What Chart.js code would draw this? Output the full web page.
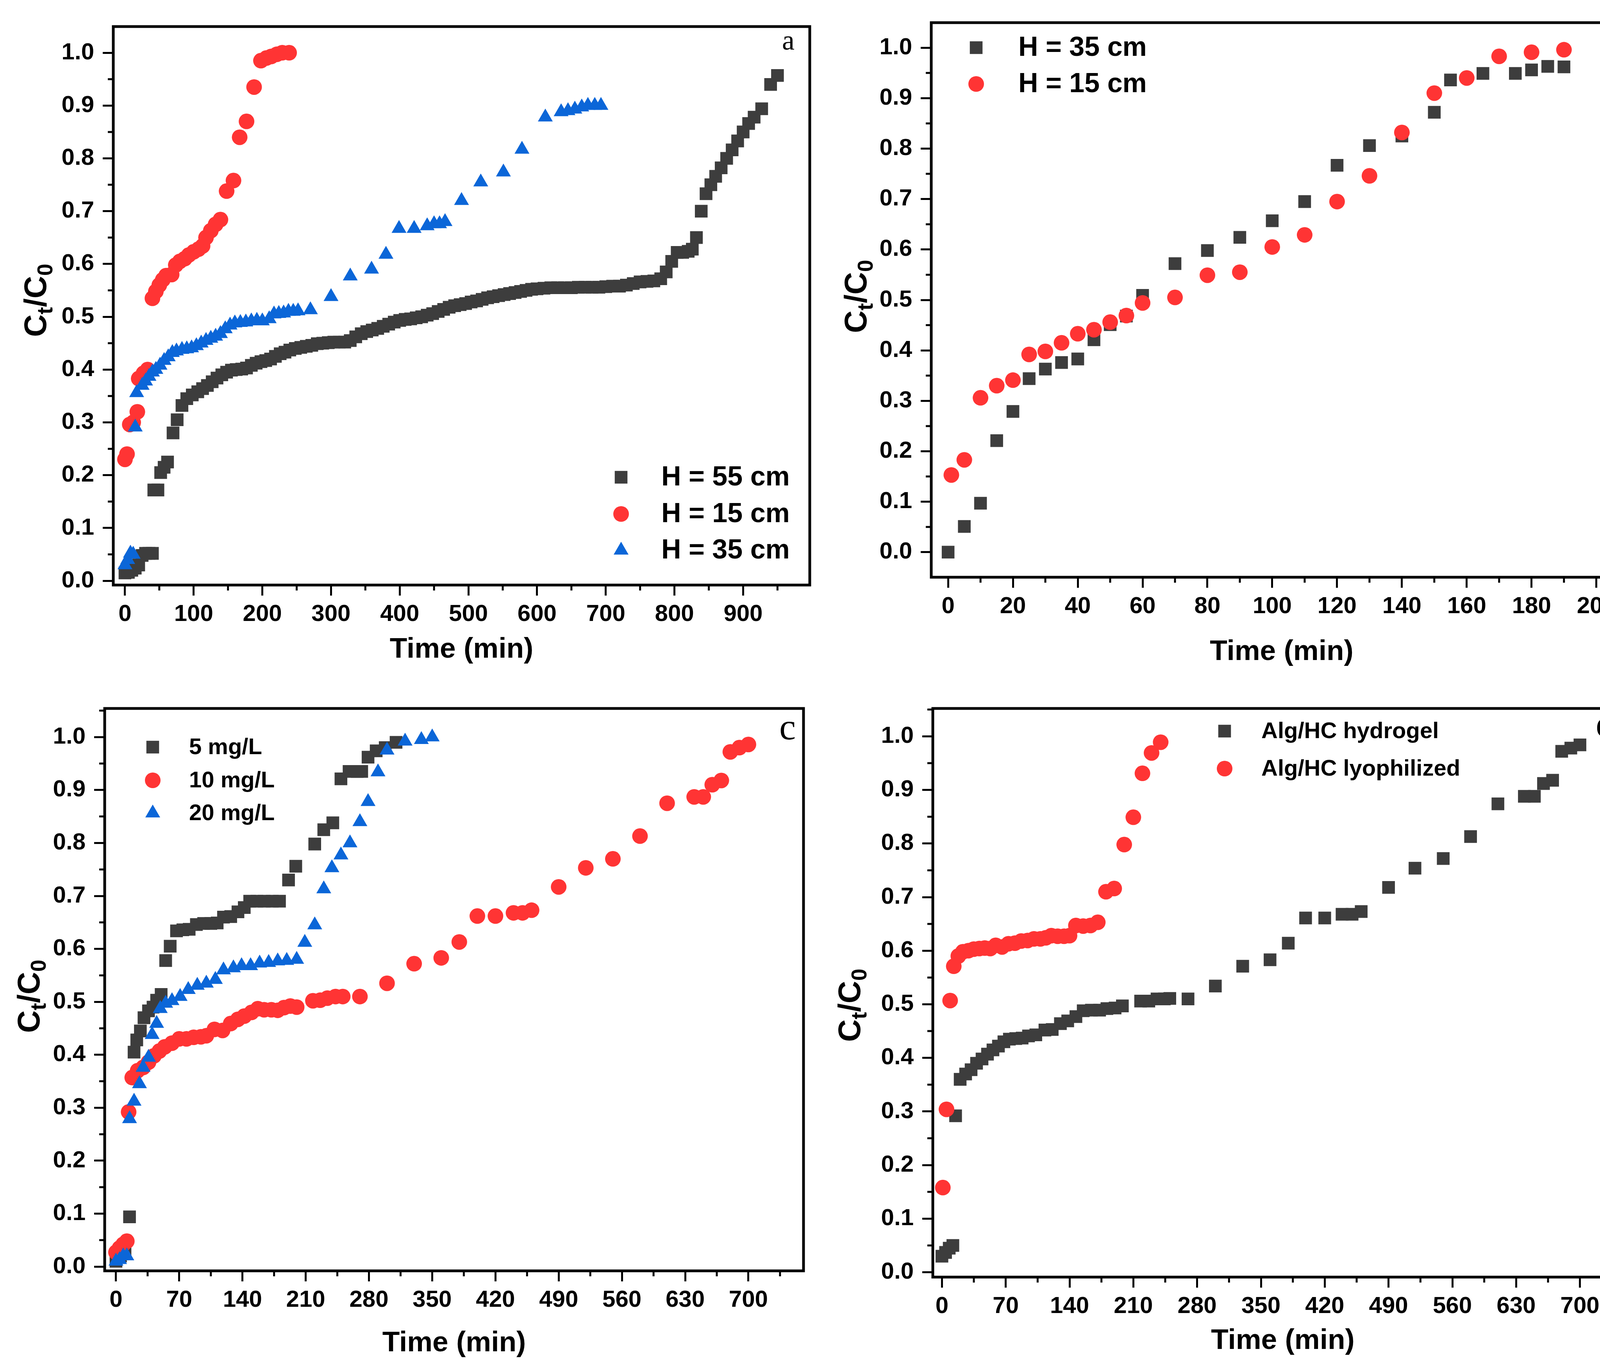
<!DOCTYPE html>
<html>
<head>
<meta charset="utf-8">
<script src="https://cdn.jsdelivr.net/npm/chart.js@4.4.1/dist/chart.umd.min.js"></script>
<style>
html, body { margin: 0; padding: 0; background: #fff; }
body { width: 4229px; height: 3513px; position: relative; overflow: hidden; }
.panel { position: absolute; }
</style>
</head>
<body>
<div class="panel" style="left:0;top:0;width:2115px;height:1756px"><canvas id="ca"></canvas></div>
<div class="panel" style="left:2115px;top:0;width:2114px;height:1756px"><canvas id="cb"></canvas></div>
<div class="panel" style="left:0;top:1756px;width:2115px;height:1757px"><canvas id="cc"></canvas></div>
<div class="panel" style="left:2115px;top:1756px;width:2114px;height:1757px"><canvas id="cd"></canvas></div>
<script>
// --- tick labels ---
const yTicks = [0, 0.1, 0.2, 0.3, 0.4, 0.5, 0.6, 0.7, 0.8, 0.9, 1.0];
const xTicksA = [0, 100, 200, 300, 400, 500, 600, 700, 800, 900];
const xTicksB = [0, 20, 40, 60, 80, 100, 120, 140, 160, 180, 200];
const xTicksCD = [0, 70, 140, 210, 280, 350, 420, 490, 560, 630, 700];

// --- panel a : bed height (time, Ct/C0) ---
const aH55 = [[0,0.015],[5,0.016],[10,0.02],[15,0.024],[20,0.03],[25,0.048],[30,0.052],[35,0.052],[40,0.052],
  [42,0.172],[48,0.172],[52,0.205],[57,0.215],[62,0.225],[70,0.28],[76,0.305],[83,0.332],[90,0.345],[98,0.352],
  [106,0.358],[113,0.364],[120,0.37],[127,0.377],[134,0.384],[141,0.39],[148,0.395],[155,0.399],[162,0.4],
  [170,0.401],[177,0.403],[184,0.408],[191,0.412],[198,0.415],[205,0.417],[212,0.42],[219,0.425],[226,0.43],
  [233,0.433],[240,0.437],[248,0.44],[256,0.442],[264,0.444],[272,0.446],[280,0.449],[288,0.45],[296,0.451],
  [304,0.452],[312,0.452],[320,0.452],[328,0.455],[336,0.462],[344,0.468],[352,0.472],[360,0.475],[368,0.478],
  [376,0.482],[384,0.486],[392,0.49],[400,0.493],[408,0.495],[416,0.496],[424,0.498],[432,0.5],[440,0.503],
  [448,0.506],[456,0.51],[464,0.514],[472,0.518],[480,0.521],[488,0.523],[496,0.525],[504,0.528],[512,0.53],
  [520,0.533],[528,0.536],[536,0.538],[544,0.54],[552,0.542],[560,0.544],[568,0.546],[576,0.548],[584,0.55],
  [592,0.552],[600,0.553],[610,0.554],[620,0.555],[630,0.555],[640,0.555],[650,0.555],[660,0.556],[670,0.556],
  [680,0.556],[690,0.556],[700,0.557],[710,0.558],[720,0.558],[730,0.56],[740,0.563],[750,0.566],[760,0.567],
  [770,0.568],[780,0.572],[788,0.585],[796,0.605],[804,0.622],[812,0.622],[820,0.624],[826,0.628],[832,0.65],
  [839,0.7],[846,0.733],[853,0.75],[860,0.766],[868,0.782],[876,0.8],[884,0.816],[892,0.833],[900,0.85],
  [908,0.866],[916,0.878],[927,0.894],[940,0.94],[950,0.957]];
const aH15 = [[0,0.23],[3,0.24],[7,0.296],[12,0.3],[18,0.32],[20,0.383],[27,0.393],[33,0.4],[40,0.535],[45,0.548],
  [50,0.56],[55,0.57],[60,0.578],[68,0.58],[74,0.598],[80,0.605],[87,0.61],[93,0.617],[100,0.623],[107,0.628],
  [113,0.634],[118,0.65],[125,0.663],[132,0.675],[139,0.684],[148,0.738],[158,0.758],[167,0.84],[177,0.87],
  [188,0.935],[198,0.985],[206,0.99],[213,0.993],[221,0.997],[229,1.0],[239,1.0]];
const aH35 = [[0,0.03],[4,0.04],[8,0.052],[12,0.05],[15,0.291],[17,0.356],[25,0.37],[30,0.378],[35,0.387],[40,0.395],
  [45,0.4],[51,0.408],[57,0.417],[63,0.424],[69,0.432],[75,0.435],[83,0.438],[90,0.439],[97,0.441],[104,0.445],
  [111,0.45],[118,0.455],[125,0.459],[132,0.463],[139,0.468],[146,0.477],[153,0.484],[160,0.488],[168,0.489],
  [176,0.49],[184,0.492],[192,0.493],[200,0.492],[210,0.496],[217,0.505],[224,0.506],[231,0.507],[238,0.51],
  [245,0.51],[252,0.511],[270,0.513],[300,0.538],[328,0.577],[359,0.59],[380,0.618],[399,0.667],[421,0.667],
  [440,0.672],[450,0.676],[458,0.676],[466,0.68],[490,0.72],[518,0.755],[551,0.774],[578,0.817],[612,0.878],
  [635,0.888],[645,0.89],[655,0.893],[665,0.897],[674,0.9],[684,0.9],[693,0.9]];

// --- panel b ---
const bH35 = [[0,0],[5,0.051],[10,0.097],[15,0.221],[20,0.279],[25,0.344],[30,0.363],[35,0.376],[40,0.383],[45,0.421],
  [50,0.451],[55,0.468],[60,0.509],[70,0.572],[80,0.598],[90,0.624],[100,0.657],[110,0.695],[120,0.767],[130,0.806],
  [140,0.825],[150,0.872],[155,0.936],[165,0.949],[175,0.949],[180,0.956],[185,0.963],[190,0.962]];
const bH15 = [[1,0.153],[5,0.183],[10,0.306],[15,0.33],[20,0.341],[25,0.392],[30,0.398],[35,0.415],[40,0.433],[45,0.441],
  [50,0.456],[55,0.469],[60,0.494],[70,0.505],[80,0.549],[90,0.555],[100,0.605],[110,0.629],[120,0.695],[130,0.746],
  [140,0.832],[150,0.91],[160,0.94],[170,0.983],[180,0.991],[190,0.996]];

// --- panel c : inlet concentration ---
const c5 = [[0,0.01],[5,0.02],[10,0.03],[15,0.094],[20,0.405],[23,0.428],[27,0.445],[31,0.47],[36,0.483],[41,0.49],
  [45,0.503],[50,0.514],[55,0.578],[60,0.605],[67,0.634],[74,0.636],[81,0.637],[89,0.646],[97,0.648],[105,0.648],
  [112,0.649],[119,0.66],[127,0.661],[135,0.67],[142,0.678],[148,0.69],[156,0.69],[164,0.69],[173,0.69],[181,0.69],
  [191,0.73],[199,0.756],[220,0.798],[230,0.825],[240,0.838],[249,0.921],[258,0.935],[267,0.935],[272,0.935],
  [279,0.962],[288,0.974],[298,0.98],[310,0.99]];
const c10 = [[0,0.027],[4,0.035],[8,0.042],[12,0.048],[14,0.292],[18,0.357],[24,0.37],[30,0.376],[36,0.386],[42,0.398],
  [48,0.407],[54,0.415],[62,0.422],[70,0.43],[78,0.43],[86,0.433],[94,0.434],[100,0.436],[109,0.448],[118,0.446],
  [127,0.459],[135,0.467],[142,0.473],[150,0.48],[157,0.487],[164,0.485],[172,0.485],[179,0.484],[186,0.489],
  [193,0.492],[200,0.49],[218,0.502],[226,0.503],[234,0.507],[243,0.51],[251,0.51],[270,0.51],[300,0.535],
  [330,0.572],[360,0.583],[380,0.613],[400,0.662],[420,0.662],[440,0.668],[450,0.668],[460,0.673],[490,0.717],
  [520,0.753],[550,0.77],[580,0.813],[610,0.875],[640,0.887],[650,0.887],[660,0.91],[670,0.918],[680,0.972],
  [690,0.98],[700,0.986]];
const c20 = [[0,0.01],[4,0.013],[8,0.02],[12,0.02],[15,0.279],[20,0.312],[26,0.345],[30,0.376],[36,0.395],[40,0.438],
  [45,0.459],[49,0.487],[55,0.497],[62,0.502],[71,0.51],[80,0.523],[90,0.531],[100,0.535],[110,0.542],[119,0.56],
  [130,0.564],[139,0.568],[149,0.568],[159,0.573],[169,0.574],[179,0.577],[189,0.578],[200,0.58],[209,0.612],
  [220,0.645],[230,0.713],[239,0.753],[249,0.777],[259,0.8],[270,0.84],[279,0.878],[290,0.934],[300,0.975],
  [320,0.992],[338,0.995],[350,1.0]];

// --- panel d : adsorbent form ---
const dHydrogel = [[0,0.03],[4,0.037],[8,0.045],[12,0.05],[15,0.292],[20,0.36],[26,0.37],[32,0.378],[38,0.39],[44,0.398],
  [50,0.407],[56,0.415],[62,0.422],[68,0.43],[74,0.435],[81,0.436],[88,0.437],[95,0.441],[103,0.443],[113,0.452],
  [121,0.453],[130,0.464],[138,0.469],[147,0.477],[155,0.488],[164,0.489],[173,0.489],[181,0.492],[190,0.493],
  [198,0.497],[218,0.506],[227,0.506],[236,0.51],[244,0.51],[250,0.511],[270,0.51],[300,0.534],[330,0.571],
  [360,0.583],[380,0.614],[399,0.661],[420,0.661],[439,0.668],[450,0.668],[460,0.673],[490,0.718],[519,0.754],
  [550,0.772],[580,0.813],[610,0.874],[639,0.888],[650,0.888],[660,0.912],[670,0.918],[680,0.972],[690,0.978],
  [700,0.984]];
const dLyophilized = [[1,0.158],[5,0.304],[9,0.507],[13,0.571],[18,0.59],[23,0.598],[29,0.6],[35,0.603],[41,0.604],
  [47,0.605],[53,0.604],[59,0.61],[66,0.607],[73,0.613],[80,0.614],[87,0.618],[94,0.619],[101,0.622],[108,0.622],
  [114,0.624],[120,0.628],[127,0.627],[134,0.627],[140,0.628],[147,0.647],[155,0.646],[163,0.647],[171,0.653],
  [180,0.71],[189,0.716],[200,0.798],[210,0.849],[220,0.931],[230,0.969],[240,0.989]];

// --- styles ---
const GREY = '#3d3d3d', RED = '#ff3434', BLUE = '#0b66d8';
const SQ = { style: 'rect', r: 23, color: GREY };
const CI = { style: 'circle', r: 20, color: RED };
const TR = { style: 'triangle', r: 22, color: BLUE };

Chart.defaults.font.family = '"Liberation Sans", Arial, sans-serif';
Chart.defaults.color = '#000';

const panels = [
  { id: 'ca', box: {x: 0, y: 0, w: 2115, h: 1756}, frame: {l: 290, r: 2073, t: 68, b: 1498},
    xr: [-17, 997], yr: [-0.008, 1.0496], xt: xTicksA, xTitleY: 1664, yTitle: {x: 89, y: 769},
    series: [
      Object.assign({label: 'H = 55 cm', pts: aH55, order: 2}, SQ),
      Object.assign({label: 'H = 15 cm', pts: aH15, order: 1}, CI),
      Object.assign({label: 'H = 35 cm', pts: aH35, order: 0}, TR)],
    legend: {mx: 1590, tx: 1693, rows: [1222, 1316, 1409], size: 70},
    letter: {text: 'a', x: 2018, y: 108, size: 72} },
  { id: 'cb', box: {x: 2115, y: 0, w: 2114, h: 1756}, frame: {l: 2384, r: 4178, t: 41, b: 1478},
    xr: [-5.2, 211], yr: [-0.0497, 1.0497], xt: xTicksB, xTitleY: 1670, yTitle: {x: 2189, y: 759},
    series: [
      Object.assign({label: 'H = 35 cm', pts: bH35, order: 1}, SQ),
      Object.assign({label: 'H = 15 cm', pts: bH15, order: 0}, CI)],
    legend: {mx: 2499, tx: 2607, rows: [122, 215], size: 70},
    letter: {text: 'b', x: 4117, y: 100, size: 76} },
  { id: 'cc', box: {x: 0, y: 1756, w: 2115, h: 1757}, frame: {l: 268, r: 2057, t: 1812, b: 3254},
    xr: [-12.5, 761], yr: [-0.008, 1.054], xt: xTicksCD, xTitleY: 3440, yTitle: {x: 72, y: 2551},
    series: [
      Object.assign({label: '5 mg/L', pts: c5, order: 2}, SQ),
      Object.assign({label: '10 mg/L', pts: c10, order: 1}, CI),
      Object.assign({label: '20 mg/L', pts: c20, order: 0}, TR)],
    legend: {mx: 391, tx: 484, rows: [1913, 1998, 2082], size: 58},
    letter: {text: 'c', x: 2016, y: 1868, size: 95} },
  { id: 'cd', box: {x: 2115, y: 1756, w: 2114, h: 1757}, frame: {l: 2388, r: 4180, t: 1806, b: 3270},
    xr: [-10, 758], yr: [-0.009, 1.052], xt: xTicksCD, xTitleY: 3434, yTitle: {x: 2173, y: 2574},
    series: [
      Object.assign({label: 'Alg/HC hydrogel', pts: dHydrogel, order: 1}, SQ),
      Object.assign({label: 'Alg/HC lyophilized', pts: dLyophilized, order: 0}, CI)],
    legend: {mx: 3135, tx: 3229, rows: [1872, 1968], size: 58},
    letter: {text: 'd', x: 4109, y: 1860, size: 95} }
];

function buildPanel(p) {
  const bx = p.box, f = p.frame;
  const left = f.l - bx.x, right = f.r - bx.x, top = f.t - bx.y, bottom = f.b - bx.y;
  const step = p.xt[1] - p.xt[0];
  const xMinor = p.xt.map(v => v + step / 2).filter(v => v > p.xr[0] && v < p.xr[1]);
  const yMinor = yTicks.map(v => v + 0.05).filter(v => v > p.yr[0] && v < p.yr[1]);
  const titleSize = 73;

  // frame, minor ticks, y title with subscripts, legend and panel letter
  const deco = {
    id: 'deco',
    afterDraw(chart) {
      const {ctx, chartArea: ca, scales: {x, y}} = chart;
      ctx.save();
      ctx.strokeStyle = '#000';
      ctx.lineWidth = 5;
      ctx.beginPath();
      xMinor.forEach(v => { const px = x.getPixelForValue(v); ctx.moveTo(px, ca.bottom); ctx.lineTo(px, ca.bottom + 14); });
      yMinor.forEach(v => { const py = y.getPixelForValue(v); ctx.moveTo(ca.left - 14, py); ctx.lineTo(ca.left, py); });
      ctx.stroke();
      ctx.lineWidth = 7;
      ctx.strokeRect(ca.left, ca.top, ca.right - ca.left, ca.bottom - ca.top);

      // y axis title: C_t/C_0
      const big = 80, small = 56;
      const fb = 'bold ' + big + 'px "Liberation Sans", Arial, sans-serif';
      const fs = 'bold ' + small + 'px "Liberation Sans", Arial, sans-serif';
      const parts = [['C', fb, 0], ['t', fs, 1], ['/C', fb, 0], ['0', fs, 1]];
      let total = 0;
      parts.forEach(pt => { ctx.font = pt[1]; pt.push(ctx.measureText(pt[0]).width); total += pt[3]; });
      ctx.save();
      ctx.translate(p.yTitle.x - bx.x, p.yTitle.y - bx.y);
      ctx.rotate(-Math.PI / 2);
      ctx.fillStyle = '#000';
      ctx.textBaseline = 'alphabetic';
      ctx.textAlign = 'left';
      let cx = -total / 2;
      const base = big * 0.358;
      parts.forEach(pt => {
        ctx.font = pt[1];
        ctx.fillText(pt[0], cx, pt[2] ? base + big * 0.2 : base);
        cx += pt[3];
      });
      ctx.restore();

      // legend
      ctx.textBaseline = 'middle';
      ctx.textAlign = 'left';
      ctx.font = 'bold ' + p.legend.size + 'px "Liberation Sans", Arial, sans-serif';
      chart.data.datasets.forEach((ds, i) => {
        const ry = p.legend.rows[i] - bx.y;
        ctx.fillStyle = ds.backgroundColor;
        Chart.helpers.drawPoint(ctx, {pointStyle: ds.pointStyle, radius: ds.pointRadius, borderWidth: 0, rotation: 0},
          p.legend.mx - bx.x, ry);
        ctx.fillStyle = '#000';
        ctx.fillText(ds.label, p.legend.tx - bx.x, ry + 2);
      });

      // panel letter
      ctx.font = p.letter.size + 'px "Liberation Serif", "Times New Roman", serif';
      ctx.textAlign = 'center';
      ctx.fillText(p.letter.text, p.letter.x - bx.x, p.letter.y - bx.y);
      ctx.restore();
    }
  };

  new Chart(document.getElementById(p.id), {
    type: 'scatter',
    data: {
      datasets: p.series.map(s => ({
        label: s.label,
        data: s.pts.map(([t, v]) => ({x: t, y: v})),
        pointStyle: s.style,
        pointRadius: s.r,
        pointHoverRadius: s.r,
        backgroundColor: s.color,
        borderColor: s.color,
        borderWidth: 0,
        order: s.order,
        clip: false
      }))
    },
    options: {
      responsive: true,
      maintainAspectRatio: false,
      animation: false,
      devicePixelRatio: 1,
      events: [],
      layout: { padding: { left: 0, top: top, right: bx.w - right, bottom: 0 } },
      plugins: { legend: { display: false }, tooltip: { enabled: false } },
      scales: {
        x: {
          type: 'linear', min: p.xr[0], max: p.xr[1],
          afterBuildTicks: s => { s.ticks = p.xt.map(v => ({value: v})); },
          afterFit: s => { s.height = bx.h - bottom; },
          ticks: { autoSkip: false, maxRotation: 0, padding: 12, color: '#000',
            font: { size: 60, weight: 'bold' }, callback: v => String(v) },
          grid: { drawOnChartArea: false, tickLength: 27, tickWidth: 5, tickColor: '#000' },
          border: { display: false },
          title: { display: true, text: 'Time (min)', color: '#000',
            font: { size: titleSize, weight: 'bold', lineHeight: 1 },
            padding: { top: 0, bottom: bx.h - titleSize / 2 - (p.xTitleY - bx.y) } }
        },
        y: {
          type: 'linear', min: p.yr[0], max: p.yr[1],
          afterBuildTicks: s => { s.ticks = yTicks.map(v => ({value: v})); },
          afterFit: s => { s.width = left; },
          ticks: { autoSkip: false, padding: 22, color: '#000',
            font: { size: 60, weight: 'bold' }, callback: v => v.toFixed(1) },
          grid: { drawOnChartArea: false, tickLength: 27, tickWidth: 5, tickColor: '#000' },
          border: { display: false }
        }
      }
    },
    plugins: [deco]
  });
}

panels.forEach(buildPanel);
</script>
</body>
</html>
